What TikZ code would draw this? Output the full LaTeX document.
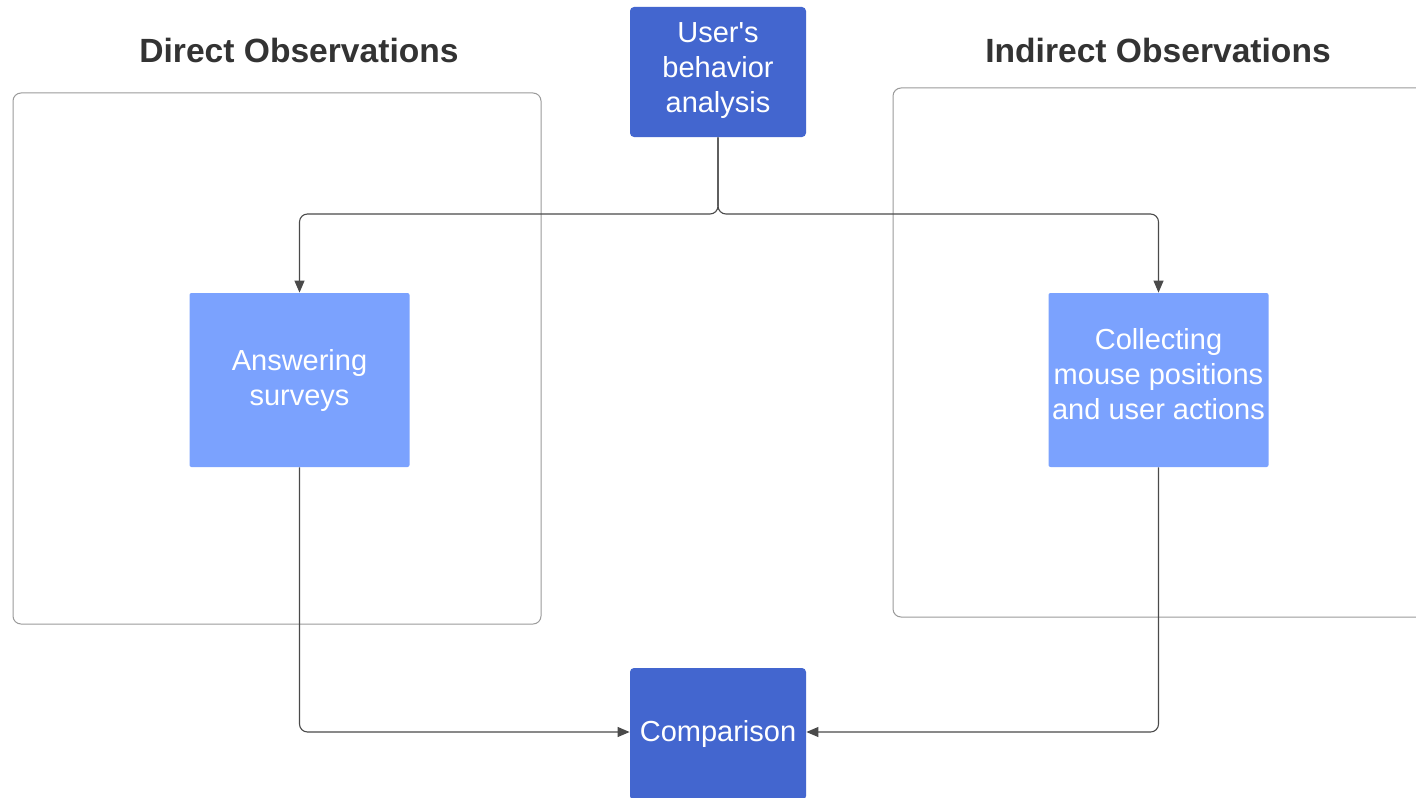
\documentclass[tikz,border=0pt]{standalone}
\usepackage{fontspec}
\setmainfont{Liberation Sans}
\usetikzlibrary{arrows.meta}
\definecolor{darkbox}{HTML}{4366CF}
\definecolor{lightbox}{HTML}{7BA2FE}
\definecolor{wire}{HTML}{4A4A4A}
\definecolor{frame}{HTML}{9A9A9A}
\begin{document}
\begin{tikzpicture}[x=0.5pt,y=-0.5pt,
  darknode/.style={fill=darkbox, text=white, rounded corners=2pt, inner sep=0pt,
    minimum width=88pt, align=center, font=\fontsize{14.5}{17.5}\selectfont},
  lightnode/.style={fill=lightbox, text=white, rounded corners=1pt, inner sep=0pt,
    minimum width=110pt, minimum height=87pt, align=center,
    font=\fontsize{14.5}{17.5}\selectfont},
  label text/.style={text=white, inner sep=0pt, align=center,
    font=\fontsize{14.5}{17.5}\selectfont},
  container/.style={draw=frame, line width=0.5pt, rounded corners=4pt},
  title/.style={font=\fontsize{16.8}{20}\selectfont\bfseries, text=black!80},
  conn/.style={draw=wire, line width=0.55pt, rounded corners=4pt,
    -{Triangle[length=6pt,width=5pt]}}]
  \useasboundingbox (0,0) rectangle (1416,797);
  \clip (0,0) rectangle (1416,797);
  \fill[white] (0,0) rectangle (1416,797);

  % group frames
  \draw[container] (13,93) rectangle (541,624);
  \draw[container] (893,88) rectangle (1430,617);

  % group titles
  \node[title] (tdirect) at (299,50) {Direct Observations};
  \node[title] (tindirect) at (1158,50) {Indirect Observations};

  % process boxes
  \node[darknode, minimum height=65pt] (analysis) at (718,72) {};
  \node[label text] (analysistext) at (718,71) {User\textquotesingle s\\behavior\\analysis};
  \node[lightnode] (survey) at (299.5,380) {Answering\\surveys};
  \node[lightnode] (collect) at (1158.5,380) {};
  \node[label text] (collecttext) at (1158.5,374) {Collecting\\mouse positions\\and user actions};
  \node[darknode, minimum height=66pt] (compare) at (718,734) {};
  \node[label text] (comparetext) at (718,734) {Comparison};

  % connectors
  \coordinate (split) at (718,214);
  \draw[conn] (analysis.south) -- (split) -| (survey.north);
  \draw[conn] (analysis.south) -- (split) -| (collect.north);
  \draw[conn] (survey.south) |- (compare.west |- 0,732);
  \draw[conn] (collect.south) |- (compare.east |- 0,732);
\end{tikzpicture}
\end{document}
